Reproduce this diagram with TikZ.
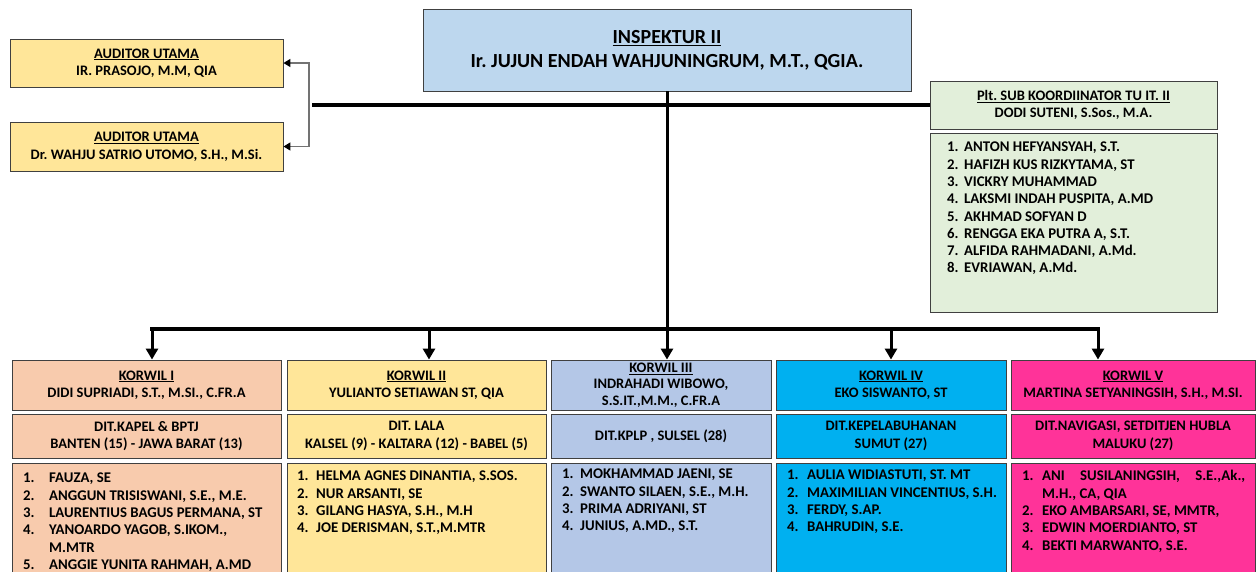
\documentclass[tikz,border=0pt]{standalone}
\usepackage{fontspec}
\setmainfont{Carlito}
\usetikzlibrary{arrows.meta, positioning}

\definecolor{audyellow}{HTML}{FFE699}
\definecolor{inspblue}{HTML}{BDD7EE}
\definecolor{tugreen}{HTML}{E2EFDA}
\definecolor{peach}{HTML}{F8CBAD}
\definecolor{lavblue}{HTML}{B4C7E7}
\definecolor{cyanblue}{HTML}{00B0F0}
\definecolor{hotpink}{HTML}{FF3399}

\begin{document}
\begin{tikzpicture}[x=1pt, y=-1pt,
  box/.style={draw=black!75, line width=0.9pt, align=center, inner sep=0pt, font=\bfseries\frenchspacing\fontsize{14.5}{17.5}\selectfont},
  listbox/.style={draw=black!75, line width=0.9pt, anchor=north west},
  listtext/.style={anchor=north west, inner sep=0pt, align=left, font=\bfseries\frenchspacing\fontsize{14.8}{17.3}\selectfont},
  conn/.style={line width=3.4pt},
  arr/.style={line width=3pt, -{Triangle[length=11pt, width=12pt]}},
  aux/.style={draw=black!55, line width=1.4pt, -{Triangle[length=7pt, width=8pt, color=black]}}
]
\useasboundingbox (0,0) rectangle (1256,571);
\clip (0,0) rectangle (1256,571);

% top level
\node[box, fill=inspblue, minimum width=488, minimum height=82, font=\bfseries\frenchspacing\fontsize{20}{24}\selectfont]
  (insp) at (667,50) {\underline{INSPEKTUR II}\\ Ir. JUJUN ENDAH WAHJUNINGRUM, M.T., QGIA.};
\node[box, fill=audyellow, minimum width=273, minimum height=48]
  (aud1) at (146.5,63) {\underline{AUDITOR UTAMA}\\ IR. PRASOJO, M.M, QIA};
\node[box, fill=audyellow, minimum width=273, minimum height=49]
  (aud2) at (146.5,146.5) {\underline{AUDITOR UTAMA}\\ Dr. WAHJU SATRIO UTOMO, S.H., M.Si.};
\node[box, fill=tugreen, minimum width=287, minimum height=48]
  (tu) at (1073.5,105) {\underline{Plt. SUB KOORDIINATOR TU IT. II}\\ DODI SUTENI, S.Sos., M.A.};
\node[listbox, fill=tugreen, minimum width=287, minimum height=179] (tulist) at (930,133) {};
\node[listtext] (tutext) at (947,139.5) {\begin{tabular}{@{}p{17pt}@{}l@{}}
  1. & ANTON HEFYANSYAH, S.T.\\
  2. & HAFIZH KUS RIZKYTAMA, ST\\
  3. & VICKRY MUHAMMAD\\
  4. & LAKSMI INDAH PUSPITA, A.MD\\
  5. & AKHMAD SOFYAN D\\
  6. & RENGGA EKA PUTRA A, S.T.\\
  7. & ALFIDA RAHMADANI, A.Md.\\
  8. & EVRIAWAN, A.Md.
\end{tabular}};

% korwil row
\node[box, fill=peach, minimum width=269, minimum height=50]
  (k1) at (146.5,385) {\underline{KORWIL I}\\ DIDI SUPRIADI, S.T., M.SI., C.FR.A};
\node[box, fill=audyellow, minimum width=259, minimum height=50]
  (k2) at (416.5,385) {\underline{KORWIL II}\\ YULIANTO SETIAWAN ST, QIA};
\node[box, fill=lavblue, minimum width=220, minimum height=50, font=\bfseries\frenchspacing\fontsize{14.5}{16.3}\selectfont]
  (k3) at (661,385) {\underline{KORWIL III}\\ INDRAHADI WIBOWO,\\ S.S.IT.,M.M., C.FR.A};
\node[box, fill=cyanblue, minimum width=230, minimum height=50]
  (k4) at (891,385) {\underline{KORWIL IV}\\ EKO SISWANTO, ST};
\node[box, fill=hotpink, minimum width=244, minimum height=50]
  (k5) at (1133,385) {\underline{KORWIL V}\\ MARTINA SETYANINGSIH, S.H., M.SI.};

% dit row
\node[box, fill=peach, minimum width=269, minimum height=44]
  (d1) at (146.5,436) {DIT.KAPEL \& BPTJ\\ BANTEN (15) - JAWA BARAT (13)};
\node[box, fill=audyellow, minimum width=259, minimum height=44]
  (d2) at (416.5,436) {DIT. LALA\\ KALSEL (9) - KALTARA (12) - BABEL (5)};
\node[box, fill=lavblue, minimum width=220, minimum height=44]
  (d3) at (661,436) {DIT.KPLP , SULSEL (28)};
\node[box, fill=cyanblue, minimum width=230, minimum height=44]
  (d4) at (891,436) {DIT.KEPELABUHANAN\\ SUMUT (27)};
\node[box, fill=hotpink, minimum width=244, minimum height=44]
  (d5) at (1133,436) {DIT.NAVIGASI, SETDITJEN HUBLA\\ MALUKU (27)};

% member lists
\node[listbox, fill=peach, minimum width=269, minimum height=140] (l1) at (12,463) {};
\node[listbox, fill=audyellow, minimum width=259, minimum height=140] (l2) at (287,463) {};
\node[listbox, fill=lavblue, minimum width=220, minimum height=140] (l3) at (551,463) {};
\node[listbox, fill=cyanblue, minimum width=230, minimum height=140] (l4) at (776,463) {};
\node[listbox, fill=hotpink, minimum width=244, minimum height=140] (l5) at (1011,463) {};

\node[listtext] (t1) at (23,470.5) {\begin{tabular}{@{}p{26pt}@{}l@{}}
  1. & FAUZA, SE\\
  2. & ANGGUN TRISISWANI, S.E., M.E.\\
  3. & LAURENTIUS BAGUS PERMANA, ST\\
  4. & YANOARDO YAGOB, S.IKOM.,\\
     & M.MTR\\
  5. & ANGGIE YUNITA RAHMAH, A.MD
\end{tabular}};
\node[listtext] (t2) at (297,468.5) {\begin{tabular}{@{}p{19pt}@{}l@{}}
  1. & HELMA AGNES DINANTIA, S.SOS.\\
  2. & NUR ARSANTI, SE\\
  3. & GILANG HASYA, S.H., M.H\\
  4. & JOE DERISMAN, S.T.,M.MTR
\end{tabular}};
\node[listtext] (t3) at (562,466.5) {\begin{tabular}{@{}p{18pt}@{}l@{}}
  1. & MOKHAMMAD JAENI, SE\\
  2. & SWANTO SILAEN, S.E., M.H.\\
  3. & PRIMA ADRIYANI, ST\\
  4. & JUNIUS, A.MD., S.T.
\end{tabular}};
\node[listtext] (t4) at (787,467.5) {\begin{tabular}{@{}p{20pt}@{}l@{}}
  1. & AULIA WIDIASTUTI, ST. MT\\
  2. & MAXIMILIAN VINCENTIUS, S.H.\\
  3. & FERDY, S.AP.\\
  4. & BAHRUDIN, S.E.
\end{tabular}};
\node[listtext] (t5) at (1022,468.5) {\begin{tabular}{@{}p{20pt}@{}l@{}}
  1. & \makebox[203pt][s]{ANI SUSILANINGSIH, S.E.,Ak.,}\\
     & M.H., CA, QIA\\
  2. & EKO AMBARSARI, SE, MMTR,\\
  3. & EDWIN MOERDIANTO, ST\\
  4. & BEKTI MARWANTO, S.E.
\end{tabular}};

% connectors
\coordinate (hl) at (312,105);
\coordinate (gs) at (309,105);
\coordinate (b1) at (152,329);
\coordinate (b2) at (429,329);
\coordinate (b5) at (1098,329);

\draw[conn] (hl) -- (tu.west);
\draw[aux] (gs) |- (aud1.east);
\draw[aux] (gs) |- (aud2.east);
\draw[arr] (insp.south) -- (insp.south |- k3.north);
\draw[conn, line cap=rect] (b1) -- (b5);
\draw[arr] (b1) -- (b1 |- k1.north);
\draw[arr] (b2) -- (b2 |- k2.north);
\draw[arr] (k4.north |- b1) -- (k4.north);
\draw[arr] (b5) -- (b5 |- k5.north);
\end{tikzpicture}
\end{document}
